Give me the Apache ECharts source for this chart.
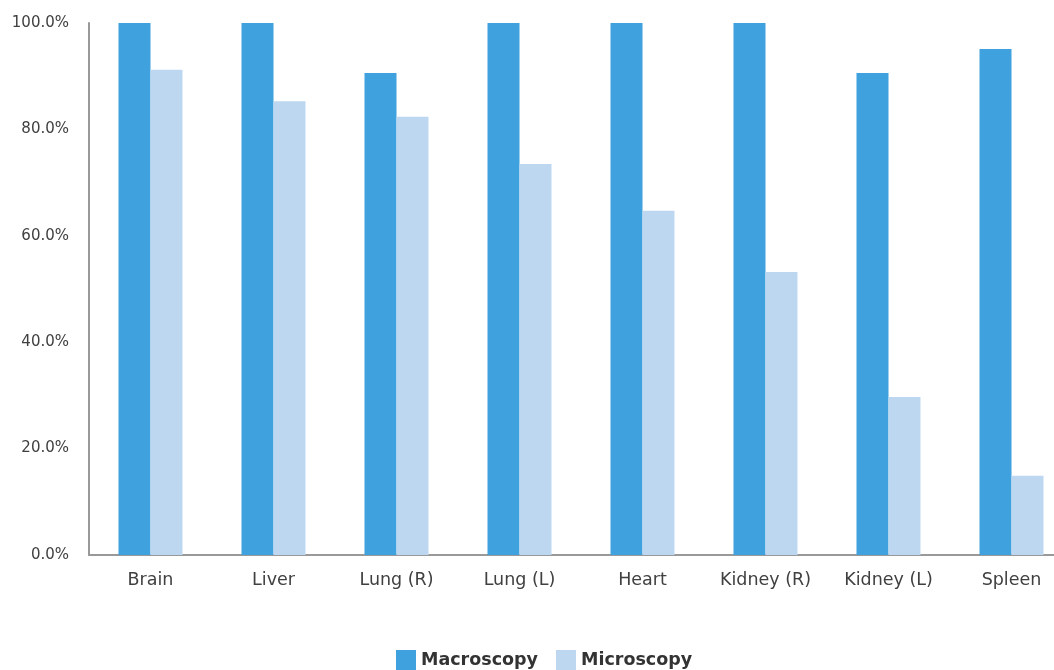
<!DOCTYPE html>
<html>
<head>
<meta charset="utf-8">
<script src="https://cdn.jsdelivr.net/npm/echarts@6/dist/echarts.min.js"></script>
<style>
  html, body { margin: 0; padding: 0; background: #fff; }
  #chart { width: 1054px; height: 670px; }
</style>
</head>
<body>
<div id="chart"></div>
<script>
const organs = ['Brain', 'Liver', 'Lung (R)', 'Lung (L)', 'Heart', 'Kidney (R)', 'Kidney (L)', 'Spleen']
const macroscopy = [100, 100, 90.6, 100, 100, 100, 90.6, 95.1]
const microscopy = [91.2, 85.3, 82.4, 73.5, 64.7, 53.2, 29.7, 14.9]

const font = 'DejaVu Sans'
const chart = echarts.init(document.getElementById('chart'), null, { renderer: 'canvas' })

chart.setOption({
  backgroundColor: '#fff',
  animation: false,
  grid: { left: 89, top: 23, width: 984, height: 532, outerBoundsMode: 'none' },
  legend: {
    bottom: 0,
    left: 396,
    padding: 0,
    itemWidth: 20,
    itemHeight: 20,
    itemGap: 18,
    icon: 'rect',
    textStyle: { color: '#333', fontSize: 17.5, fontWeight: 'bold', fontFamily: font },
  },
  xAxis: {
    type: 'category',
    data: organs,
    axisLine: { lineStyle: { color: '#999', width: 2 } },
    axisTick: { show: false },
    axisLabel: { color: '#404040', fontSize: 17.5, fontFamily: font, margin: 16 },
  },
  yAxis: {
    type: 'value',
    min: 0,
    max: 100,
    interval: 20,
    axisLine: { show: true, lineStyle: { color: '#999', width: 2 } },
    axisTick: { show: false },
    splitLine: { show: false },
    axisLabel: {
      color: '#404040', fontSize: 15, fontFamily: font, margin: 20,
      formatter: (v) => v.toFixed(1) + '%',
    },
  },
  series: [
    {
      name: 'Macroscopy',
      type: 'bar',
      data: macroscopy,
      barWidth: 32,
      barGap: '0%',
      itemStyle: { color: '#3FA2DE' },
    },
    {
      name: 'Microscopy',
      type: 'bar',
      data: microscopy,
      barWidth: 32,
      itemStyle: { color: '#BDD7F1' },
    },
  ],
})
</script>
</body>
</html>
